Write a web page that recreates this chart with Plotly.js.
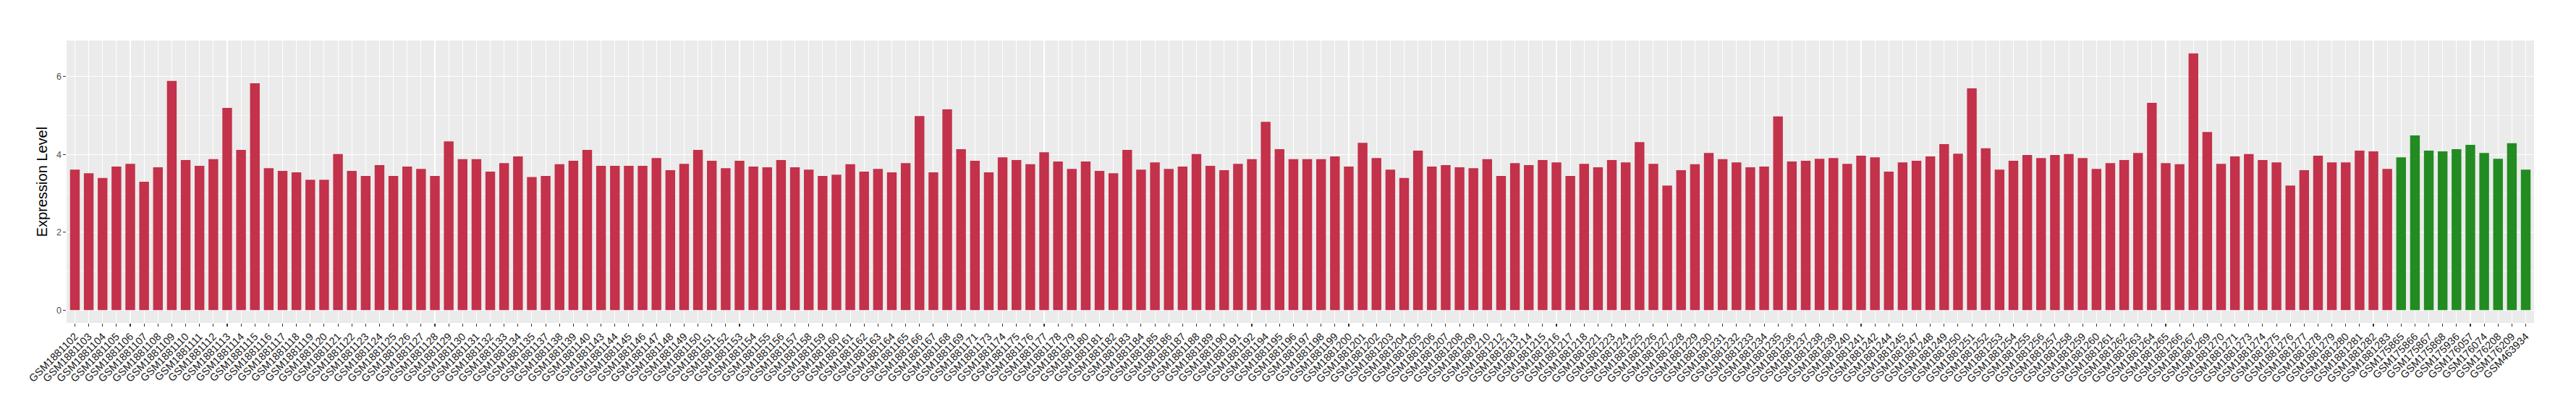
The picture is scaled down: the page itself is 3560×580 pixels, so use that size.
<!DOCTYPE html>
<html>
<head>
<meta charset="utf-8">
<script src="https://cdn.plot.ly/plotly-3.0.1.min.js"></script>
<style>html,body{margin:0;padding:0;background:#fff;}#chart{width:3560px;height:580px;}</style>
</head>
<body>
<div id="chart"></div>
<script>
const tumorSamples = [
"GSM1881102","GSM1881103","GSM1881104","GSM1881105","GSM1881106","GSM1881107","GSM1881108","GSM1881109","GSM1881110","GSM1881111",
"GSM1881112","GSM1881113","GSM1881114","GSM1881115","GSM1881116","GSM1881117","GSM1881118","GSM1881119","GSM1881120","GSM1881121",
"GSM1881122","GSM1881123","GSM1881124","GSM1881125","GSM1881126","GSM1881127","GSM1881128","GSM1881129","GSM1881130","GSM1881131",
"GSM1881132","GSM1881133","GSM1881134","GSM1881135","GSM1881137","GSM1881138","GSM1881139","GSM1881140","GSM1881143","GSM1881144",
"GSM1881145","GSM1881146","GSM1881147","GSM1881148","GSM1881149","GSM1881150","GSM1881151","GSM1881152","GSM1881153","GSM1881154",
"GSM1881155","GSM1881156","GSM1881157","GSM1881158","GSM1881159","GSM1881160","GSM1881161","GSM1881162","GSM1881163","GSM1881164",
"GSM1881165","GSM1881166","GSM1881167","GSM1881168","GSM1881169","GSM1881171","GSM1881173","GSM1881174","GSM1881175","GSM1881176",
"GSM1881177","GSM1881178","GSM1881179","GSM1881180","GSM1881181","GSM1881182","GSM1881183","GSM1881184","GSM1881185","GSM1881186",
"GSM1881187","GSM1881188","GSM1881189","GSM1881190","GSM1881191","GSM1881192","GSM1881194","GSM1881195","GSM1881196","GSM1881197",
"GSM1881198","GSM1881199","GSM1881200","GSM1881201","GSM1881202","GSM1881203","GSM1881204","GSM1881205","GSM1881206","GSM1881207",
"GSM1881208","GSM1881209","GSM1881210","GSM1881212","GSM1881213","GSM1881214","GSM1881215","GSM1881216","GSM1881217","GSM1881218",
"GSM1881221","GSM1881223","GSM1881224","GSM1881225","GSM1881226","GSM1881227","GSM1881228","GSM1881229","GSM1881230","GSM1881231",
"GSM1881232","GSM1881233","GSM1881234","GSM1881235","GSM1881236","GSM1881237","GSM1881238","GSM1881239","GSM1881240","GSM1881241",
"GSM1881242","GSM1881244","GSM1881245","GSM1881247","GSM1881248","GSM1881249","GSM1881250","GSM1881251","GSM1881252","GSM1881253",
"GSM1881254","GSM1881255","GSM1881256","GSM1881257","GSM1881258","GSM1881259","GSM1881260","GSM1881261","GSM1881262","GSM1881263",
"GSM1881264","GSM1881265","GSM1881266","GSM1881267","GSM1881269","GSM1881270","GSM1881271","GSM1881273","GSM1881274","GSM1881275",
"GSM1881276","GSM1881277","GSM1881278","GSM1881279","GSM1881280","GSM1881281","GSM1881282","GSM1881283"
];
const tumorValues = [
3.61,3.52,3.40,3.69,3.76,3.30,3.67,5.89,3.86,3.71,
3.88,5.20,4.12,5.83,3.65,3.58,3.54,3.35,3.35,4.01,
3.58,3.45,3.73,3.45,3.69,3.63,3.45,4.34,3.88,3.88,
3.56,3.78,3.95,3.42,3.45,3.75,3.84,4.12,3.71,3.71,
3.71,3.71,3.91,3.60,3.76,4.12,3.84,3.65,3.84,3.69,
3.67,3.86,3.67,3.61,3.45,3.48,3.75,3.56,3.63,3.54,
3.78,4.99,3.54,5.16,4.14,3.84,3.54,3.93,3.86,3.75,
4.06,3.82,3.63,3.82,3.58,3.52,4.12,3.61,3.80,3.63,
3.69,4.01,3.71,3.60,3.76,3.88,4.84,4.14,3.88,3.88,
3.88,3.95,3.69,4.30,3.91,3.61,3.40,4.10,3.69,3.73,
3.67,3.65,3.88,3.45,3.78,3.73,3.86,3.80,3.45,3.76,
3.67,3.86,3.80,4.32,3.76,3.20,3.60,3.75,4.04,3.88,
3.80,3.67,3.69,4.98,3.82,3.84,3.89,3.91,3.76,3.97,
3.93,3.56,3.80,3.84,3.95,4.27,4.02,5.70,4.16,3.61,
3.84,3.99,3.91,3.99,4.01,3.91,3.63,3.78,3.86,4.04,
5.33,3.78,3.75,6.60,4.58,3.76,3.95,4.01,3.86,3.80,
3.20,3.60,3.97,3.80,3.80,4.10,4.08,3.63,4.30
];
const normalSamples = ["GSM175865","GSM175866","GSM175867","GSM175868","GSM175936","GSM176057","GSM176074","GSM176208","GSM176209","GSM463934"];
const normalValues = [3.93,4.49,4.10,4.08,4.14,4.25,4.04,3.89,4.29,3.61];
const yTickVals = [0,2,4,6];
const yTickText = ["0","2","4","6"];
const yTitle = "Expression Level";

const allSamples = tumorSamples.concat(normalSamples);
const allValues = tumorValues.concat(normalValues);
const maxVal = Math.max.apply(null, allValues);
const pad = maxVal * 0.05;

const traces = [
  {type:'bar', x: tumorSamples, y: tumorValues, marker:{color:'#C3314A'}, hoverinfo:'x+y', showlegend:false},
  {type:'bar', x: normalSamples, y: normalValues, marker:{color:'#228B22'}, hoverinfo:'x+y', showlegend:false}
];

const font = "Liberation Sans, Arial, Helvetica, sans-serif";
const layout = {
  width:3560, height:580,
  margin:{l:92, r:58, t:56, b:134, pad:0},
  paper_bgcolor:'#FFFFFF',
  plot_bgcolor:'#EBEBEB',
  barmode:'overlay',
  bargap:0.3,
  showlegend:false,
  font:{family:font, color:'#4D4D4D'},
  xaxis:{
    type:'category',
    categoryorder:'array',
    categoryarray: allSamples,
    range:[-0.6, allSamples.length - 0.4],
    showgrid:true, gridcolor:'#FFFFFF', gridwidth:1.07,
    zeroline:false, showline:false,
    ticks:'outside', ticklen:3.6, tickwidth:1.07, tickcolor:'#333333',
    tickangle:-45,
    tickfont:{family:font, size:14.5, color:'#1A1A1A'},
    automargin:false
  },
  yaxis:{
    range:[-pad, maxVal + pad],
    tickvals: yTickVals, ticktext: yTickText,
    showgrid:true, gridcolor:'#FFFFFF', gridwidth:1.07,
    minor:{dtick:1, tick0:0, showgrid:true, gridcolor:'#FFFFFF', gridwidth:0.53, ticks:''},
    zeroline:false, showline:false,
    ticks:'outside', ticklen:3.6, tickwidth:1.07, tickcolor:'#333333',
    tickfont:{family:font, size:12.5, color:'#4D4D4D'},
    title:{text: yTitle, font:{family:font, size:20, color:'#000000'}, standoff:6},
    automargin:true
  }
};
Plotly.newPlot('chart', traces, layout, {displayModeBar:false, staticPlot:true});
</script>
</body>
</html>
